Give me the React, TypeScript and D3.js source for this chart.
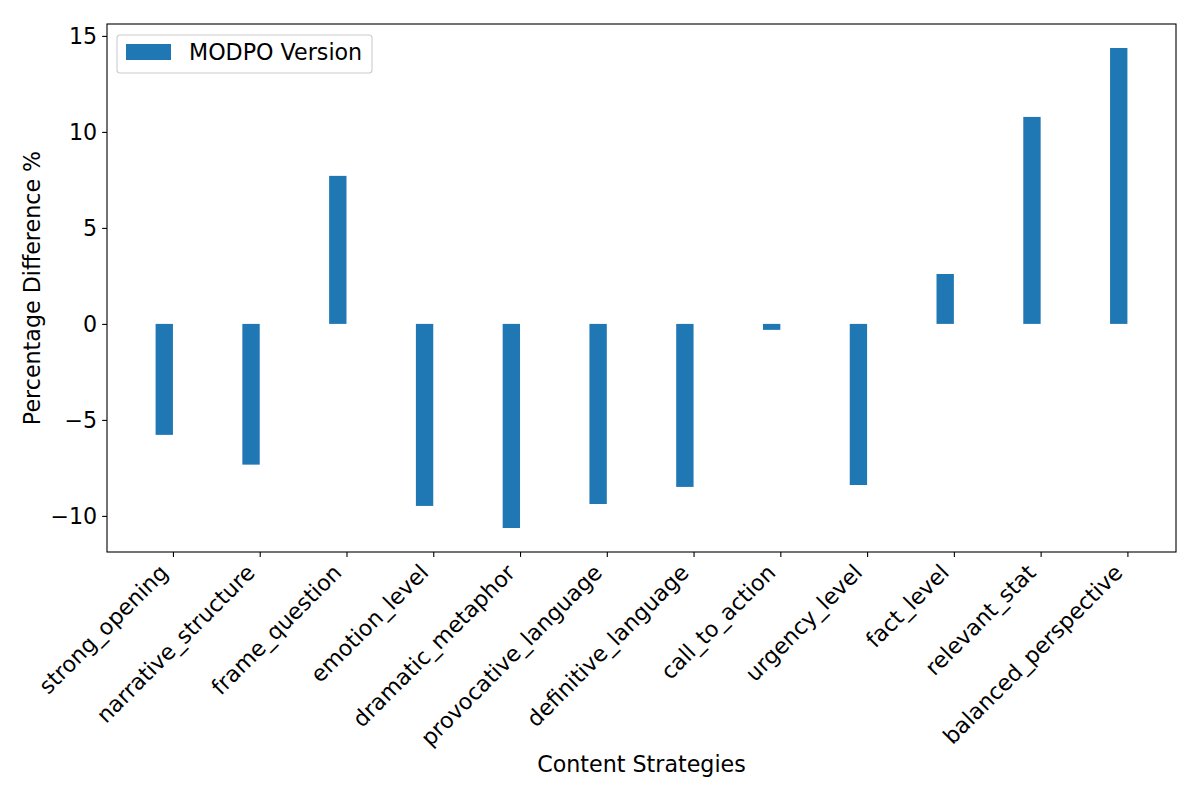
import { useEffect, useRef } from 'react'
import * as d3 from 'd3'

const strategies = [
  'strong_opening',
  'narrative_structure',
  'frame_question',
  'emotion_level',
  'dramatic_metaphor',
  'provocative_language',
  'definitive_language',
  'call_to_action',
  'urgency_level',
  'fact_level',
  'relevant_stat',
  'balanced_perspective',
]
const modpoDiff = [-5.78, -7.33, 7.71, -9.48, -10.63, -9.38, -8.49, -0.31, -8.39, 2.6, 10.78, 14.37]
const yTicks = [-10, -5, 0, 5, 10, 15]
const seriesName = 'MODPO Version'

const W = 1200
const H = 800
const MARGIN = { top: 24, right: 24, bottom: 248, left: 107 }
const FONT = 'DejaVu Sans, sans-serif'
const FS = 22.2
const BAR_W = 0.2
const BLUE = '#1f77b4'

export default function App() {
  const svgRef = useRef<SVGSVGElement>(null)

  useEffect(() => {
    document.body.style.margin = '0'
    if (!svgRef.current) return
    const innerW = W - MARGIN.left - MARGIN.right
    const innerH = H - MARGIN.top - MARGIN.bottom

    // matplotlib-style 5% margins around the drawn bars
    const xLo = -BAR_W
    const xHi = strategies.length - 1
    const xPad = (xHi - xLo) * 0.05
    const x = d3.scaleLinear().domain([xLo - xPad, xHi + xPad]).range([0, innerW])

    const yMin = d3.min(modpoDiff)!
    const yMax = d3.max(modpoDiff)!
    const yPad = (yMax - yMin) * 0.05
    const y = d3.scaleLinear().domain([yMin - yPad, yMax + yPad]).range([innerH, 0])

    const svg = d3.select(svgRef.current)
    svg.selectAll('*').remove()
    svg.append('rect').attr('width', W).attr('height', H).attr('fill', '#fff')
    const g = svg.append('g').attr('transform', `translate(${MARGIN.left},${MARGIN.top})`)

    // bars sit just left of each tick (offset group of width 0.2)
    g.selectAll('rect.bar')
      .data(modpoDiff)
      .join('rect')
      .attr('class', 'bar')
      .attr('x', (_, i) => x(i - BAR_W))
      .attr('width', (_, i) => x(i) - x(i - BAR_W))
      .attr('y', (d) => y(Math.max(0, d)))
      .attr('height', (d) => Math.abs(y(d) - y(0)))
      .attr('fill', BLUE)

    // frame
    g.append('rect')
      .attr('width', innerW)
      .attr('height', innerH)
      .attr('fill', 'none')
      .attr('stroke', '#000')
      .attr('stroke-width', 1.1)

    // y axis
    const yAxis = d3.axisLeft(y).tickValues(yTicks).tickSize(4.9).tickPadding(4.9)
      .tickFormat((d) => d3.format('d')(d as number).replace('-', '\u2212'))
    g.append('g')
      .call(yAxis)
      .call((a) => {
        a.select('.domain').remove()
        a.selectAll('.tick line').attr('stroke', '#000').attr('stroke-width', 1.1)
        a.selectAll('.tick text')
          .attr('fill', '#000')
          .attr('font-size', FS)
          .attr('font-family', FONT)
      })

    // x axis with rotated labels
    const xAxis = d3.axisBottom(x).tickValues(d3.range(strategies.length)).tickSize(4.9)
      .tickFormat((d) => strategies[d as number])
    g.append('g')
      .attr('transform', `translate(0,${innerH})`)
      .call(xAxis)
      .call((a) => {
        a.select('.domain').remove()
        a.selectAll('.tick line').attr('stroke', '#000').attr('stroke-width', 1.1)
        a.selectAll('.tick text')
          .attr('fill', '#000')
          .attr('font-size', FS)
          .attr('font-family', FONT)
          .attr('text-anchor', 'end')
          .attr('dy', null)
          .attr('y', null)
          .attr('transform', 'translate(-4,22) rotate(-45)')
      })

    // axis titles
    svg.append('text')
      .attr('x', MARGIN.left + innerW / 2)
      .attr('y', 772)
      .attr('text-anchor', 'middle')
      .attr('font-size', FS)
      .attr('font-family', FONT)
      .text('Content Strategies')

    svg.append('text')
      .attr('transform', `translate(40,${MARGIN.top + innerH / 2}) rotate(-90)`)
      .attr('text-anchor', 'middle')
      .attr('font-size', FS)
      .attr('font-family', FONT)
      .text('Percentage Difference %')

    // legend
    const lg = svg.append('g').attr('transform', 'translate(117,35)')
    lg.append('rect')
      .attr('width', 255)
      .attr('height', 38)
      .attr('rx', 3)
      .attr('fill', '#fff')
      .attr('fill-opacity', 0.8)
      .attr('stroke', '#ccc')
      .attr('stroke-width', 1.1)
    lg.append('rect').attr('x', 9).attr('y', 9).attr('width', 45).attr('height', 16).attr('fill', BLUE)
    lg.append('text')
      .attr('x', 72)
      .attr('y', 25)
      .attr('font-size', FS)
      .attr('font-family', FONT)
      .text(seriesName)
  }, [])

  return <svg ref={svgRef} width={W} height={H} style={{ display: 'block' }} />
}
